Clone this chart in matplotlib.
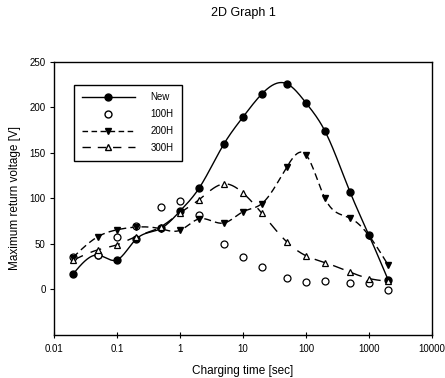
import numpy as np
import matplotlib
matplotlib.use("Agg")
import matplotlib.pyplot as plt
from matplotlib.lines import Line2D

plt.rcParams['font.family'] = ['Liberation Sans', 'DejaVu Sans']

charging_time = [0.02, 0.05, 0.1, 0.2, 0.5, 1, 2, 5, 10, 20, 50, 100, 200, 500, 1000, 2000]

new = [16.6, 37.8, 32.4, 55, 67, 86, 111, 160, 189.5, 215, 226, 205, 174, 107, 59.4, 10.8]
h100 = [36, 38, 57.6, 70, 91, 97.5, 81.5, 50, 35.7, 24.5, 13, 8.3, 9.4, 6.8, 6.8, -0.7]
h200 = [35, 58, 65.5, 68.5, 66.6, 65, 77.5, 73, 85.4, 94.4, 135, 148, 100, 78.5, 59, 27]
h300 = [32, 43.5, 49, 58, 69, 84, 98.5, 116, 106, 83.6, 52, 37, 29.5, 19, 12, 9]

labels = ["New", "100H", "200H", "300H"]


def spline(x, y, n=400):
    # natural cubic spline in log10(x)
    t = np.log10(np.asarray(x, float))
    y = np.asarray(y, float)
    k = len(t)
    h = np.diff(t)
    A = np.zeros((k, k))
    b = np.zeros(k)
    A[0, 0] = A[-1, -1] = 1
    for i in range(1, k - 1):
        A[i, i - 1] = h[i - 1]
        A[i, i] = 2 * (h[i - 1] + h[i])
        A[i, i + 1] = h[i]
        b[i] = 6 * ((y[i + 1] - y[i]) / h[i] - (y[i] - y[i - 1]) / h[i - 1])
    M = np.linalg.solve(A, b)
    tt = np.linspace(t[0], t[-1], n)
    idx = np.clip(np.searchsorted(t, tt) - 1, 0, k - 2)
    t0, t1 = t[idx], t[idx + 1]
    hh = t1 - t0
    a = (t1 - tt) / hh
    c = (tt - t0) / hh
    yy = (a * y[idx] + c * y[idx + 1]
          + ((a ** 3 - a) * M[idx] + (c ** 3 - c) * M[idx + 1]) * hh ** 2 / 6)
    return 10 ** tt, yy


fig = plt.figure(figsize=(4.45, 3.78), dpi=100)
ax = fig.add_axes([0.121, 0.114, 0.850, 0.722])

xs, ys = spline(charging_time, new)
ax.plot(xs, ys, color='black', lw=1.0, zorder=2)
ax.plot(charging_time, new, 'o', color='black', ms=5, zorder=3)

ax.plot(charging_time, h100, 'o', mfc='white', mec='black', mew=0.9, ms=5, zorder=3)

xs, ys = spline(charging_time, h200)
ax.plot(xs, ys, color='black', lw=1.0, dashes=(5, 3), zorder=2)
ax.plot(charging_time, h200, 'v', color='black', ms=5, zorder=3)

xs, ys = spline(charging_time, h300)
ax.plot(xs, ys, color='black', lw=1.0, dashes=(8, 6), zorder=2)
ax.plot(charging_time, h300, '^', mfc='white', mec='black', mew=0.9, ms=5, zorder=3)

# legend proxies
handles = [
    Line2D([], [], color='black', lw=1.0, marker='o', ms=5),
    Line2D([], [], ls='none', marker='o', mfc='white', mec='black', ms=5),
    Line2D([], [], color='black', lw=1.0, dashes=(4, 2.5), marker='v', ms=5),
    Line2D([], [], color='black', lw=1.0, dashes=(6, 5), marker='^', mfc='white', mec='black', ms=5),
]
leg = ax.legend(handles, labels, loc='upper left', bbox_to_anchor=(0.04, 0.935),
                fontsize=7, handlelength=5.5, handletextpad=1.6, labelspacing=0.7,
                borderpad=0.8, fancybox=False, framealpha=1, edgecolor='black')
leg.get_frame().set_linewidth(1.0)

ax.set_xscale('log')
ax.set_xlim(0.01, 10000)
ax.set_ylim(-50, 250)
ax.set_xticks([0.01, 0.1, 1, 10, 100, 1000, 10000])
ax.set_xticklabels(['0.01', '0.1', '1', '10', '100', '1000', '10000'])
ax.set_yticks([0, 50, 100, 150, 200, 250])
ax.minorticks_off()
ax.tick_params(axis='x', direction='inout', length=5, width=0.8, labelsize=7, pad=4)
ax.tick_params(axis='y', direction='out', length=3, width=0.8, labelsize=7, pad=3)
for s in ax.spines.values():
    s.set_linewidth(1.0)

ax.set_xlabel('Charging time [sec]', fontsize=8.5, labelpad=8)
ax.set_ylabel('Maximum return voltage [V]', fontsize=8.5, labelpad=6)
fig.text(0.546, 0.966, '2D Graph 1', fontsize=9, ha='center', va='center')

fig.savefig('out.png', dpi=100)
